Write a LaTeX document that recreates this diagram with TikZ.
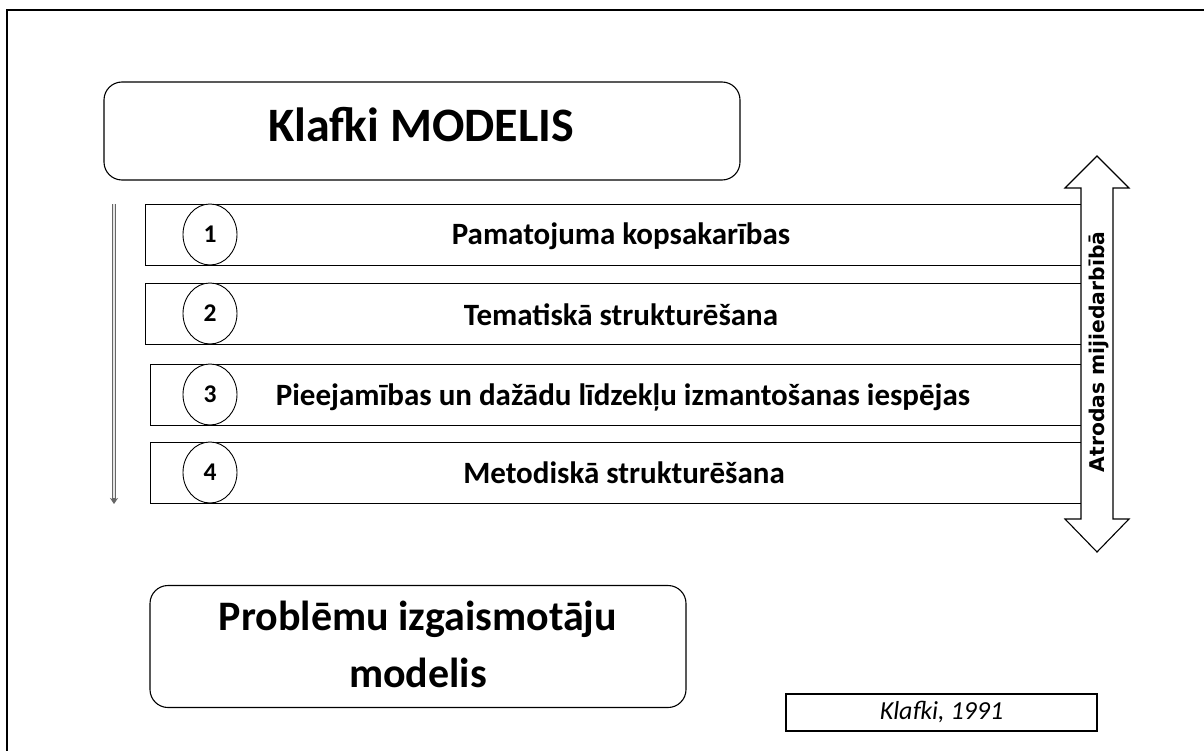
\documentclass[tikz,border=0pt]{standalone}
\usepackage{fontspec}
\setmainfont{Carlito}
\newfontfamily\sidefont{DejaVu Sans}
\usetikzlibrary{arrows.meta,shapes.geometric}
\tikzset{
  rowbox/.style={draw, line width=1.1pt, anchor=north west, minimum height=61pt, inner sep=0pt},
  numcirc/.style={draw, ellipse, line width=0.9pt, fill=white, minimum width=54pt, minimum height=61pt, inner sep=0pt, text height=16pt, text depth=0pt, font=\fontsize{25.5}{30}\selectfont\bfseries},
  rowtext/.style={font=\fontsize{31}{36}\selectfont\bfseries, inner sep=0pt, anchor=base},
  bigbox/.style={draw, line width=1.1pt, rounded corners=18pt, inner sep=0pt},
}
\begin{document}
\begin{tikzpicture}[x=1pt, y=-1pt]
\useasboundingbox (0,0) rectangle (1204,751);
\fill[white] (0,0) rectangle (1204,751);
% outer frame
\draw[line width=2pt] (6.5,760) -- (6.5,10) -- (1210,10);
% title
\node[bigbox, minimum width=636pt, minimum height=98pt] (title) at (422,131) {};
\node[anchor=base, inner sep=0pt, font=\fontsize{48}{56}\selectfont\bfseries] (titletext) at (421,142) {Klafki MODELIS};
% rows
\node[rowbox, minimum width=936pt] (r1) at (145,204) {};
\node[rowbox, minimum width=936pt] (r2) at (145,283) {};
\node[rowbox, minimum width=931pt] (r3) at (150,364) {};
\node[rowbox, minimum width=931pt] (r4) at (150,442) {};
\node[numcirc] (c1) at (210,234.5) {1};
\node[numcirc] (c2) at (210,313.5) {2};
\node[numcirc] (c3) at (210,394.5) {3};
\node[numcirc] (c4) at (210,472.5) {4};
\node[rowtext] (t1) at (621,245) {Pamatojuma kopsakarības};
\node[rowtext] (t2) at (621,325) {Tematiskā strukturēšana};
\node[rowtext] (t3) at (623,405) {Pieejamības un dažādu līdzekļu izmantošanas iespējas};
\node[rowtext] (t4) at (624,483) {Metodiskā strukturēšana};
% left arrow
\coordinate (la) at (114,204);
\coordinate (lb) at (114,504);
\draw[line width=3.2pt, gray!80!black, -{Stealth[length=6pt,width=8pt]}] (la) -- (lb);
\draw[line width=1.1pt, gray!20, shorten >=6pt] (la) -- (lb);
% double arrow
\draw[line width=1.1pt, fill=white] (1081,188) -- (1065,188) -- (1097,156) -- (1129,188) -- (1113,188)
  -- (1113,519) -- (1129,519) -- (1097,552) -- (1065,519) -- (1081,519) -- cycle;
\node[rotate=90, inner sep=0pt, font=\sidefont\bfseries\fontsize{20.3}{24}\selectfont] (side) at (1099,352) {Atrodas mijiedarbībā};
% bottom box
\node[bigbox, minimum width=536pt, minimum height=122pt] (prob) at (418,646.5) {};
\node[anchor=base, inner sep=0pt, font=\fontsize{42}{50}\selectfont\bfseries] (probA) at (418,630) {Problēmu izgaismotāju};
\node[anchor=base, inner sep=0pt, font=\fontsize{42}{50}\selectfont\bfseries] (probB) at (418,687) {modelis};
% citation
\node[draw, line width=1.1pt, minimum width=311pt, minimum height=37pt, inner sep=0pt, font=\fontsize{26}{30}\selectfont\itshape] (cite) at (941.5,712.5) {Klafki, 1991};
\end{tikzpicture}
\end{document}
